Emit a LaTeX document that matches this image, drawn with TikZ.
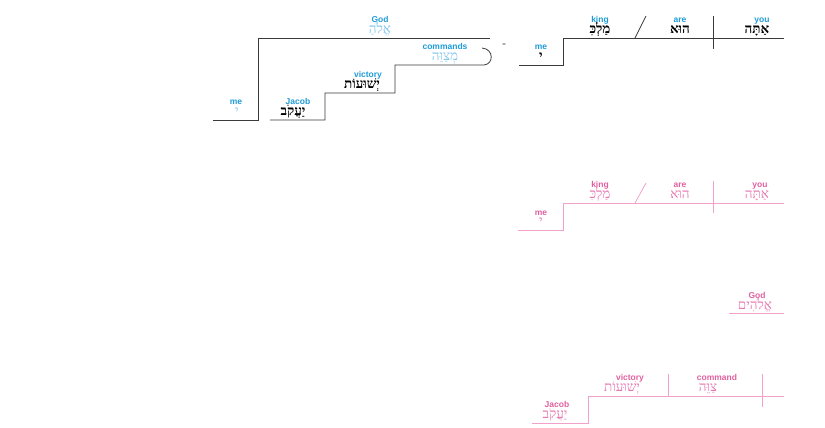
\documentclass[tikz,border=0pt]{standalone}
\usepackage{fontspec}
\setmainfont{Liberation Sans}
\newfontfamily\heb[Script=Hebrew]{Liberation Serif}
\TeXXeTstate=1
\definecolor{ink}{HTML}{3A3A3A}
\definecolor{cyanlab}{HTML}{1E9BD7}
\definecolor{cyanheb}{HTML}{86C6EC}
\definecolor{pinklab}{HTML}{E0609F}
\definecolor{pinkheb}{HTML}{E77AB2}
\definecolor{pinkline}{HTML}{F2A2C9}
\tikzset{
  lab/.style={font=\fontsize{8.5}{9}\selectfont\bfseries, text=cyanlab, anchor=base, inner sep=0pt},
  plab/.style={font=\fontsize{8.5}{9}\selectfont\bfseries, text=pinklab, anchor=base, inner sep=0pt},
  hebk/.style={font=\heb\bfseries\fontsize{13.5}{14}\selectfont, text=black, anchor=base, inner sep=0pt},
  hebc/.style={font=\heb\fontsize{13.5}{14}\selectfont, text=cyanheb, anchor=base, inner sep=0pt},
  hebp/.style={font=\heb\fontsize{13.5}{14}\selectfont, text=pinkheb, anchor=base, inner sep=0pt},
  blk/.style={draw=ink, line width=0.8pt},
  pnk/.style={draw=pinkline, line width=0.8pt},
}
\begin{document}
\begin{tikzpicture}[x=1pt,y=-1pt]
\useasboundingbox (0,0) rectangle (825,428);
% ---------- top left diagram ----------
\coordinate (a1) at (213,120); \coordinate (a2) at (258,120);
\coordinate (a3) at (258,38);  \coordinate (a4) at (490,38);
\draw[blk] (a1) -- (a2) -- (a3) -- (a4);
\coordinate (b1) at (270,120); \coordinate (b2) at (325,120);
\coordinate (b3) at (325,93);  \coordinate (b4) at (395,93);
\coordinate (b5) at (395,65);  \coordinate (b6) at (484,65);
\coordinate (b7) at (482,48);
\draw[blk] (b1) -- (b2) -- (b3) -- (b4) -- (b5) -- (b6) .. controls (494,64) and (494,49) .. (b7);
\node[lab] (godE) at (380,22.5) {God};
\node[hebc] (godH) at (380,33.5) {\beginR אֱלֹהַ\endR};
\node[lab] (meE1) at (236,104.5) {me};
\node[hebc] (meH1) at (237,115) {\beginR י\endR};
\node[lab] (jacE1) at (298,104.5) {Jacob};
\node[hebk] (jacH1) at (293,115.5) {\beginR יַעֲקֹב\endR};
\node[lab] (vicE1) at (368,77.5) {victory};
\node[hebk] (vicH1) at (362,88.5) {\beginR יְשׁוּעוֹת\endR};
\node[lab] (comE1) at (445,50) {commands};
\node[hebc] (comH1) at (445,61) {\beginR מְצַוֵּה\endR};
\node[font=\fontsize{6}{6}\selectfont, text=ink, inner sep=0pt] (eq) at (504,45) {=};
% ---------- top right diagram ----------
\coordinate (c1) at (519,65); \coordinate (c2) at (563,65);
\coordinate (c3) at (563,38); \coordinate (c4) at (784,38);
\draw[blk] (c1) -- (c2) -- (c3) -- (c4);
\coordinate (s1) at (635,38); \coordinate (s2) at (646,16);
\draw[blk] (s1) -- (s2);
\coordinate (d1) at (713,16); \coordinate (d2) at (713,49);
\draw[blk] (d1) -- (d2);
\node[lab] (kingE1) at (600,22.5) {king};
\node[hebk] (kingH1) at (600,33.5) {\beginR מַלְכִּ\endR};
\node[lab] (areE1) at (680,22.5) {are};
\node[hebk] (areH1) at (680,33.5) {\beginR הוּא\endR};
\node[lab] (youE1) at (762,22.5) {you};
\node[hebk] (youH1) at (757,33.5) {\beginR אַתָּה\endR};
\node[lab] (meE2) at (541,50) {me};
\node[hebk] (meH2) at (541,60) {\beginR י\endR};
% ---------- pink diagram 1 ----------
\coordinate (e1) at (518,230); \coordinate (e2) at (563,230);
\coordinate (e3) at (563,203); \coordinate (e4) at (784,203);
\draw[pnk] (e1) -- (e2) -- (e3) -- (e4);
\coordinate (t1) at (635,203); \coordinate (t2) at (646,183);
\draw[pnk] (t1) -- (t2);
\coordinate (f1) at (713,181); \coordinate (f2) at (713,213);
\draw[pnk] (f1) -- (f2);
\node[plab] (kingE2) at (600,187.5) {king};
\node[hebp] (kingH2) at (600,198.5) {\beginR מַלְכִּ\endR};
\node[plab] (areE2) at (680,187.5) {are};
\node[hebp] (areH2) at (680,198.5) {\beginR הוּא\endR};
\node[plab] (youE2) at (760,187.5) {you};
\node[hebp] (youH2) at (757,198.5) {\beginR אַתָּה\endR};
\node[plab] (meE3) at (541,215) {me};
\node[hebp] (meH3) at (541,225) {\beginR י\endR};
% ---------- pink diagram 2 ----------
\coordinate (g1) at (729,313); \coordinate (g2) at (784,313);
\draw[pnk] (g1) -- (g2);
\node[plab] (godE2) at (757,298) {God};
\node[hebp] (godH2) at (755,309) {\beginR אֱלֹהִים\endR};
% ---------- pink diagram 3 ----------
\coordinate (h1) at (532,423); \coordinate (h2) at (588,423);
\coordinate (h3) at (588,396); \coordinate (h4) at (784,396);
\draw[pnk] (h1) -- (h2) -- (h3) -- (h4);
\coordinate (i1) at (668,374); \coordinate (i2) at (668,396);
\draw[pnk] (i1) -- (i2);
\coordinate (j1) at (762,374); \coordinate (j2) at (762,407);
\draw[pnk] (j1) -- (j2);
\node[plab] (vicE2) at (630,380.5) {victory};
\node[hebp] (vicH2) at (622,391.5) {\beginR יְשׁוּעוֹת\endR};
\node[plab] (comE2) at (717,380.5) {command};
\node[hebp] (comH2) at (708,391.5) {\beginR צַוֵּה\endR};
\node[plab] (jacE2) at (557,407.5) {Jacob};
\node[hebp] (jacH2) at (555,418.5) {\beginR יַעֲקֹב\endR};
\end{tikzpicture}
\end{document}
